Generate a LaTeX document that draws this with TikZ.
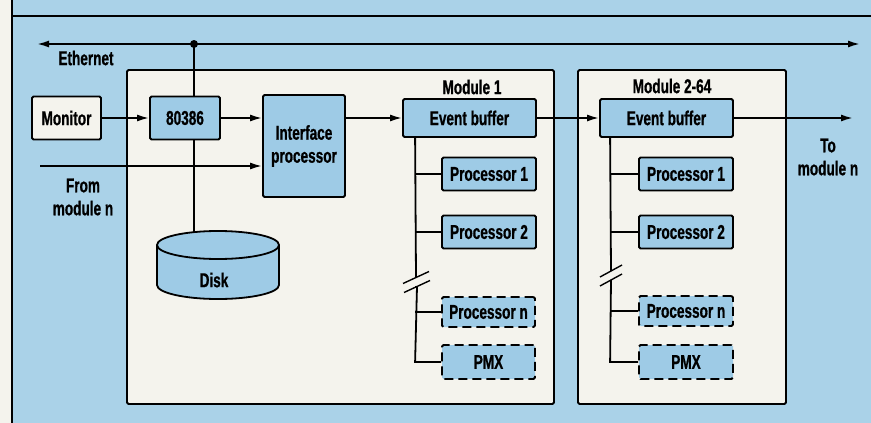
\documentclass[tikz,border=0pt]{standalone}
\usepackage{fontspec}
\setmainfont[FakeStretch=0.68,FakeBold=0.8]{Liberation Sans}
\usetikzlibrary{arrows.meta,calc}
\definecolor{bgblue}{RGB}{170,210,232}
\definecolor{boxblue}{RGB}{158,203,230}
\definecolor{paper}{RGB}{244,243,237}
\begin{document}
\begin{tikzpicture}[x=1pt,y=-1pt,line width=1.8pt,
  lbl/.style={font=\bfseries\fontsize{20}{23}\selectfont},
  bbox/.style={draw,fill=boxblue,rounded corners=1.5pt,inner sep=0pt,lbl},
  wbox/.style={draw,fill=paper,rounded corners=1.5pt,inner sep=0pt,lbl},
  dbox/.style={bbox,dash pattern=on 9pt off 5pt},
  arr/.style={-{Latex[length=12pt,width=7pt]}},
  darr/.style={{Latex[length=12pt,width=7pt]}-{Latex[length=12pt,width=7pt]}},
  frame/.style={draw,fill=paper,rounded corners=1.5pt}]
\useasboundingbox (0,0) rectangle (871,423);
% background
\fill[paper] (0,0) rectangle (871,423);
\fill[bgblue] (12,0) rectangle (871,423);
\draw (12,0) -- (12,423);
\draw (12,16) -- (871,16);
% big frames
\path[frame] (127,70) rectangle (554,404);
\path[frame] (578,70) rectangle (786,404);
% ethernet
\coordinate (ethL) at (37,44);
\coordinate (ethR) at (860,44);
\coordinate (dot) at (194,44);
\draw[darr] (ethL) -- (ethR);
\fill (dot) circle (4);
\node[lbl,anchor=center] (ethlbl) at (86,58) {Ethernet};
% nodes
\node[wbox,minimum width=69,minimum height=43] (mon) at (66.5,118) {Monitor};
\node[bbox,minimum width=70,minimum height=43] (cpu) at (185,118) {80386};
\node[bbox,minimum width=82,minimum height=102,align=center] (iface) at (304,146) {Interface\\processor};
\node[lbl] (m1lbl) at (472,87) {Module 1};
\node[lbl] (m2lbl) at (672,86) {Module 2-64};
\node[bbox,minimum width=133,minimum height=38] (eb1) at (469.5,118) {Event buffer};
\node[bbox,minimum width=133,minimum height=38] (eb2) at (666.5,118) {Event buffer};
\node[bbox,minimum width=94,minimum height=33] (p1a) at (489,174) {Processor 1};
\node[bbox,minimum width=94,minimum height=33] (p2a) at (489,232) {Processor 2};
\node[dbox,minimum width=93,minimum height=30] (pna) at (488.5,312) {Processor n};
\node[dbox,minimum width=93,minimum height=34] (pmxa) at (488.5,362) {PMX};
\node[bbox,minimum width=94,minimum height=33] (p1b) at (686,174) {Processor 1};
\node[bbox,minimum width=94,minimum height=33] (p2b) at (686,232) {Processor 2};
\node[dbox,minimum width=94,minimum height=30] (pnb) at (686,311) {Processor n};
\node[dbox,minimum width=94,minimum height=34] (pmxb) at (686,362) {PMX};
% disk
\draw[fill=boxblue] (157,245) -- (157,285) arc[start angle=180,end angle=360,x radius=61,y radius=-14] -- (279,245);
\draw[fill=boxblue] (218,245) ellipse[x radius=61,y radius=14];
\coordinate (disktop) at (194,232);
\node[lbl] (disk) at (214,280) {Disk};
% labels
\node[lbl,align=center] (from) at (83,197) {From\\module n};
\node[lbl,align=center] (to) at (828,157) {To\\module n};
\coordinate (fromS) at (40,166);
\coordinate (toE) at (853,118);
% connectors
\draw (dot) -- (dot |- cpu.north);
\draw (dot |- cpu.south) -- (disktop);
\draw[arr] (mon.east) -- (cpu.west);
\draw[arr] (cpu.east) -- (cpu.east -| iface.west);
\draw[arr] (fromS) -- (fromS -| iface.west);
\draw[arr] (iface.east |- eb1.west) -- (eb1.west);
\draw[arr] (eb1.east) -- (eb2.west);
\draw[arr] (eb2.east) -- (toE);
% module 1 bus
\coordinate (b1) at ([xshift=13pt]eb1.south west);
\coordinate (g1a) at (416,277.5);
\coordinate (g1b) at (417,286.5);
\draw (b1) -- (g1a);
\draw (g1b) -- (b1 |- pmxa.west) -- (pmxa.west);
\draw (b1 |- p1a.west) -- (p1a.west);
\draw (b1 |- p2a.west) -- (p2a.west);
\draw (b1 |- pna.west) -- (pna.west);
\draw (b1 |- g1b) -- (g1b);
\draw[line width=1.4pt] ([shift={(-13,6)}]g1a) -- ([shift={(13,-6)}]g1a);
\draw[line width=1.4pt] ([shift={(-13,6)}]g1b) -- ([shift={(13,-6)}]g1b);
% module 2 bus
\coordinate (b2) at ([xshift=11pt]eb2.south west);
\coordinate (g2a) at (611,271);
\coordinate (g2b) at (611,280);
\draw (b2) -- (g2a);
\draw (g2b) -- (b2 |- pmxb.west) -- (pmxb.west);
\draw (b2 |- p1b.west) -- (p1b.west);
\draw (b2 |- p2b.west) -- (p2b.west);
\draw (b2 |- pnb.west) -- (pnb.west);
\draw[line width=1.4pt] ([shift={(-11,6)}]g2a) -- ([shift={(11,-6)}]g2a);
\draw[line width=1.4pt] ([shift={(-11,6)}]g2b) -- ([shift={(11,-6)}]g2b);
\end{tikzpicture}
\end{document}
